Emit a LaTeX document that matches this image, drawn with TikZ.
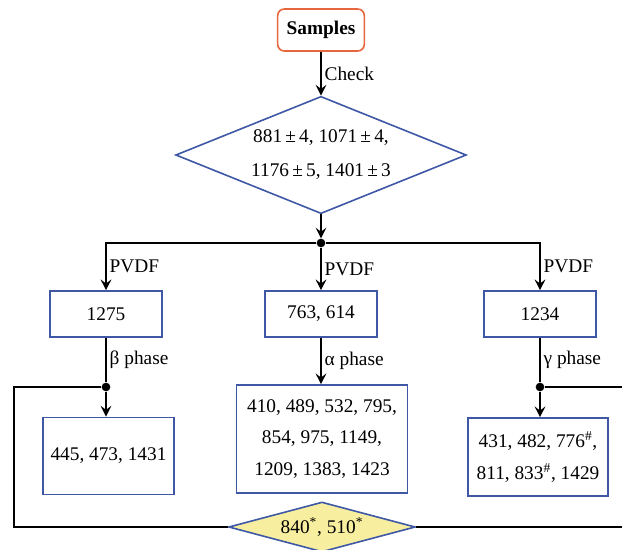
\documentclass[tikz,border=0pt]{standalone}
\usepackage{fontspec}
\setmainfont{Liberation Serif}
\usetikzlibrary{shapes.geometric,arrows.meta}
\definecolor{boxblue}{HTML}{3F58A6}
\definecolor{startred}{HTML}{E8663E}
\definecolor{markyellow}{HTML}{F7EF9F}
\tikzset{
    RS/.style ={rectangle,rounded corners=5pt,minimum width=65pt,minimum height=31.5pt,draw=startred,line width=1.2pt},
    DM1/.style ={diamond,shape aspect=2.5,inner sep=0pt,minimum width=218pt,minimum height=88pt,draw=boxblue,line width=1.2pt},
    DM2/.style ={diamond,shape aspect=3.5,inner sep=0pt,minimum width=140pt,minimum height=37.5pt,draw=boxblue,fill=markyellow,line width=1.2pt},
    RA1/.style ={rectangle,minimum width=84pt,minimum height=34.5pt,draw=boxblue,line width=1.2pt},
    RA2/.style ={rectangle,align=center,draw=boxblue,line width=1.2pt},
    DT/.style ={circle,fill,inner sep=0pt,minimum size=6.5pt},
    AR/.style ={-{Stealth[length=8pt,width=8pt,inset=3pt]},line width=1.5pt},
    LN/.style ={line width=1.5pt},
    SU/.style ={midway,right,inner sep=2pt}}
\begin{document}
\begin{tikzpicture}[x=0.75pt,y=-0.75pt,font=\fontsize{14.5}{23.6}\selectfont]
        \useasboundingbox (0,0) rectangle (622,550);
        \node[RS] (1) at(321,30){\textbf{Samples}};
        \node[DM1,align=center,font=\fontsize{14.5}{25.5}\selectfont] (2) at(321,155){881\,±\,4, 1071\,±\,4,\\1176\,±\,5, 1401\,±\,3};
        \node[DT] (3) at(321,243){};
        \node[RA1] (4) at(106,314){1275};
        \node[RA1] (5) at(321,314){763, 614};
        \node[RA1] (6) at(540,314){1234};
        \node[DT] (7) at(106,387){};
        \node[DT] (8) at(540,387){};
        \node[RA2,minimum width=98pt,minimum height=58pt] (9) at(108.5,456){445, 473, 1431};
        \node[RA2,minimum width=128pt,minimum height=81pt] (10) at(322,439){410, 489, 532, 795,\\854, 975, 1149,\\1209, 1383, 1423};
        \node[RA2,minimum width=105pt,minimum height=58.5pt] (11) at(538,457){431, 482, 776\textsuperscript{\#},\\811, 833\textsuperscript{\#}, 1429};
        \node[DM2] (12) at(322,527){840\textsuperscript{*}, 510\textsuperscript{*}};
        \coordinate (13) at(14,387);
        \coordinate (14) at(622,387);
        \coordinate (15) at(622,527);
        \draw[AR] (1) --(2) node[SU]{Check};
        \draw[AR] (2) --(3);
        \draw[AR] (3) -|(4) node[SU,pos=0.75]{PVDF};
        \draw[AR] (3) --(5) node[SU]{PVDF};
        \draw[AR] (3) -|(6) node[SU,pos=0.75]{PVDF};
        \draw[LN] (4) --(7) node[SU]{β phase};
        \draw[AR] (5) --(5 |- 10.north) node[SU]{α phase};
        \draw[LN] (6) --(8) node[SU]{γ phase};
        \draw[AR] (7) --(7 |- 9.north);
        \draw[AR] (8) --(8 |- 11.north);
        \draw[LN] (7) --(13) |-(12);
        \draw[LN] (8) --(14);
        \draw[LN] (12) --(15);
\end{tikzpicture}
\end{document}
